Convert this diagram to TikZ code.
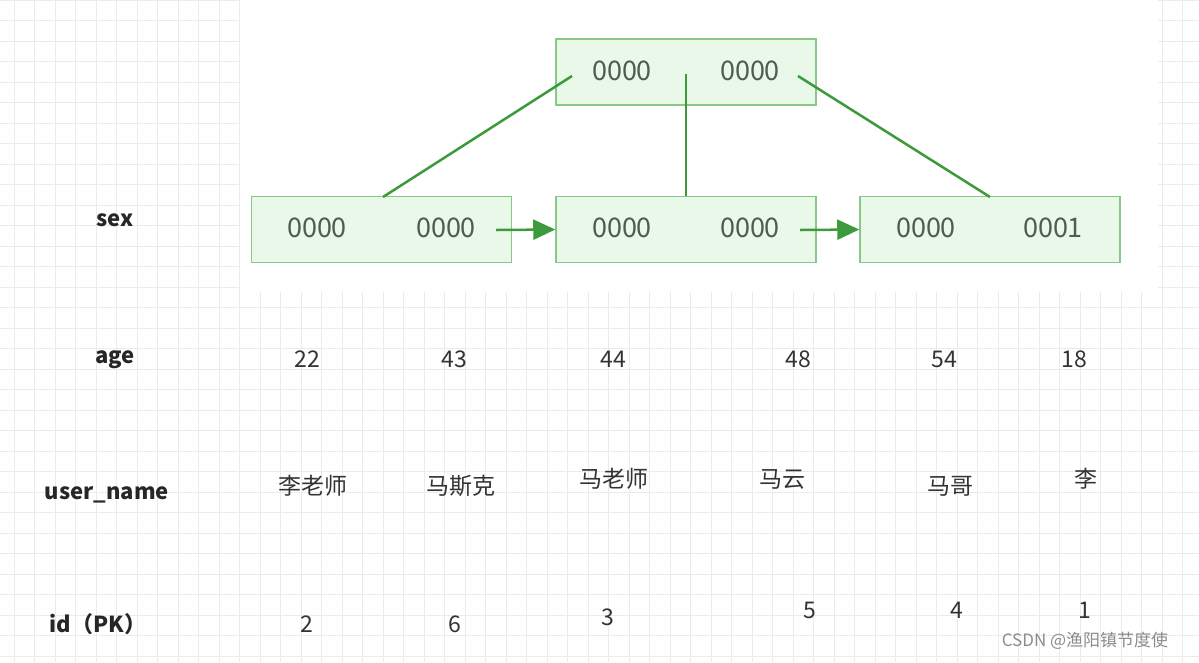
\documentclass[tikz,border=0pt]{standalone}
\usepackage{fontspec}
\setmainfont{Noto Sans CJK SC}
\usetikzlibrary{arrows.meta}
\definecolor{boxfill}{HTML}{E9F8E9}
\definecolor{boxdraw}{HTML}{86C986}
\definecolor{linkgreen}{HTML}{3C9A3C}
\definecolor{digitgray}{HTML}{4E5E4E}
\tikzset{
  page/.style={x=1pt,y=-1pt},
  bnode/.style={draw=boxdraw,fill=boxfill,line width=1.5pt,minimum width=260pt,minimum height=66pt,inner sep=0pt},
  key/.style={text=digitgray,font=\fontsize{27}{27}\selectfont},
  rowlabel/.style={font=\bfseries\fontsize{22}{22}\selectfont,text=black!85},
  val/.style={font=\fontsize{23}{23}\selectfont,text=black!80},
  link/.style={draw=linkgreen,line width=2.5pt},
  next/.style={draw=linkgreen,line width=2.5pt,-{Triangle[length=22pt,width=20pt]}}
}
\begin{document}
\begin{tikzpicture}[page]
\useasboundingbox (0,0) rectangle (1199,662);
\fill[white] (0,0) rectangle (1199,662);
% grid
\foreach \i in {0,...,58} \draw[black!8,line width=1pt] (14+20.5*\i,0) -- (14+20.5*\i,662);
\foreach \j in {0,...,32} \draw[black!8,line width=1pt] (0,20.5*\j) -- (1199,20.5*\j);
\fill[white] (240,0) rectangle (1158,292);
% tree
\node[bnode] (root) at (686,72) {};
\node[bnode] (leafa) at (381.5,229.5) {};
\node[bnode] (leafb) at (686,229.5) {};
\node[bnode] (leafc) at (990,229.5) {};
\node[key] (ra) at (622,71) {0000};
\node[key] (rb) at (750,71) {0000};
\node[key] (aa) at (317,228) {0000};
\node[key] (ab) at (446,228) {0000};
\node[key] (ba) at (622,228) {0000};
\node[key] (bb) at (750,228) {0000};
\node[key] (ca) at (926,228) {0000};
\node[key] (cb) at (1053,228) {0001};
\coordinate (pa) at (572,76);
\coordinate (pb) at (686,74);
\coordinate (pc) at (798,76);
\draw[link] (pa) -- (383,197);
\draw[link] (pb) -- (leafb.north);
\draw[link] (pc) -- (990,197);
\draw[next] (496,230) -- (leafb.west);
\draw[next] (800,230) -- (leafc.west);
% rows
\node[rowlabel] (lsex) at (115,220) {sex};
\node[rowlabel] (lage) at (115,360) {age};
\node[rowlabel] (lname) at (107,495) {user\_name};
\node[rowlabel] (lid) at (98,624) {id（PK）};
\foreach \x/\v [count=\k] in {307/22,454/43,613/44,798/48,944/54,1074/18}
  \node[val] (age\k) at (\x,359) {\v};
\foreach \x/\y/\v [count=\k] in {313/486/李老师,461/486/马斯克,614/479/马老师,782/479/马云,950/486/马哥,1086/479/李}
  \node[val] (name\k) at (\x,\y) {\v};
\foreach \x/\y/\v [count=\k] in {307/624/2,455/624/6,608/617/3,810/610/5,957/610/4,1085/610/1}
  \node[val] (id\k) at (\x,\y) {\v};
\node[font=\fontsize{17}{17}\selectfont,text=black!45] (mark) at (1085,641) {CSDN @渔阳镇节度使};
\end{tikzpicture}
\end{document}
